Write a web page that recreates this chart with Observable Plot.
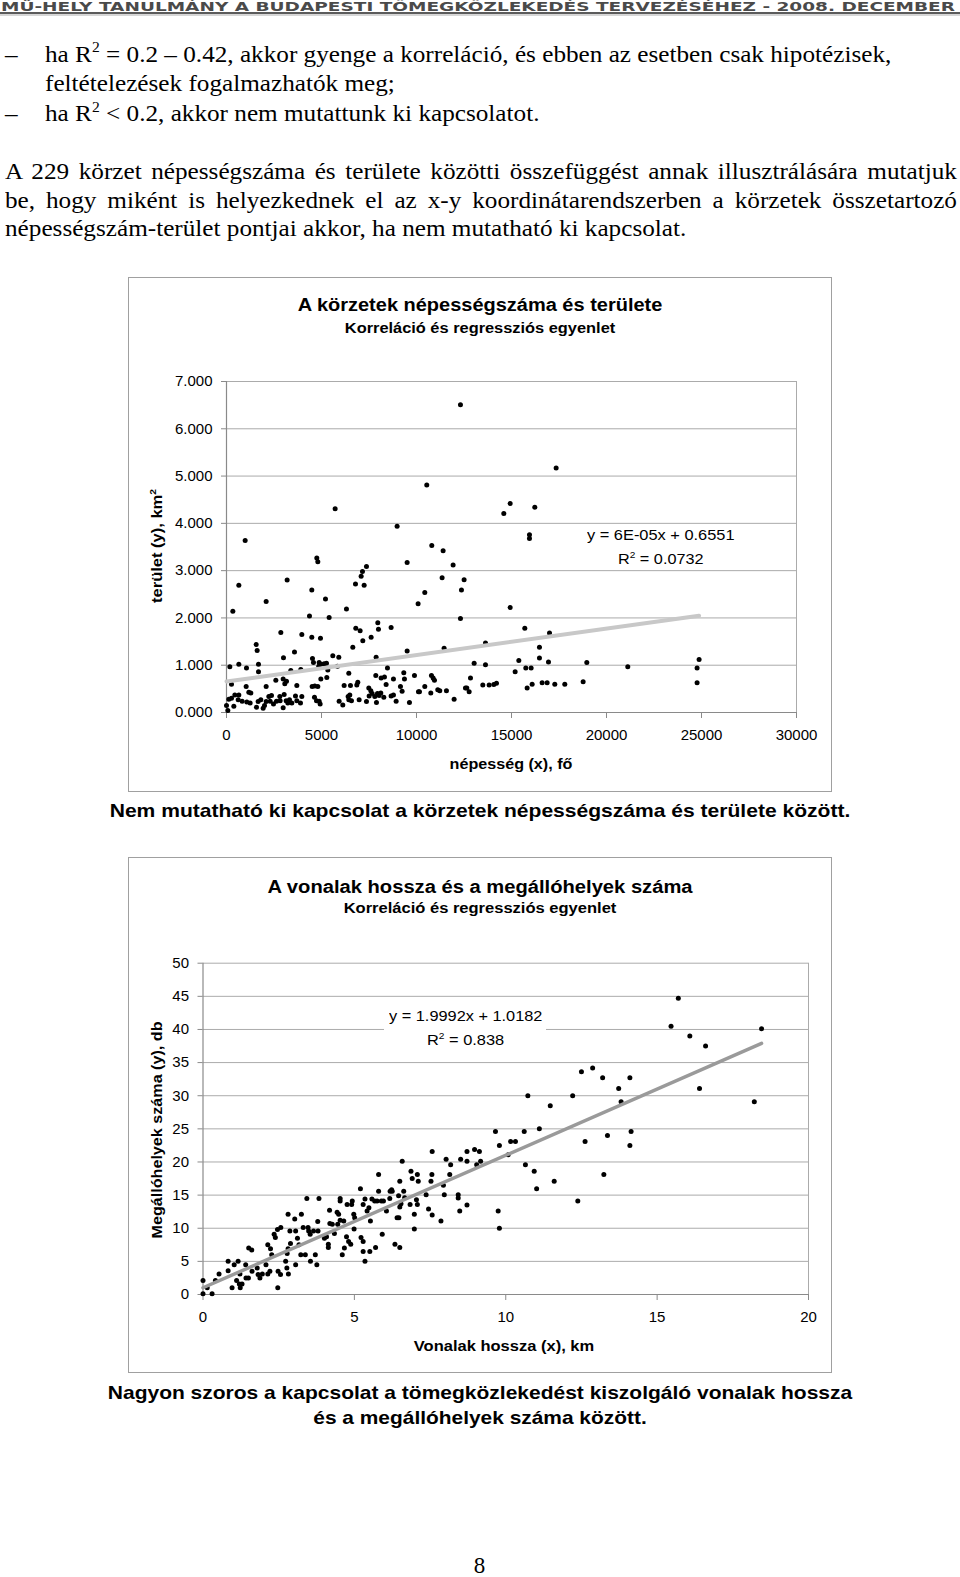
<!DOCTYPE html>
<html><head><meta charset="utf-8">
<script src="https://cdn.jsdelivr.net/npm/d3@7"></script>
<script src="https://cdn.jsdelivr.net/npm/@observablehq/plot@0.6"></script>
<style>
body{margin:0;background:#fff;}
#page{position:relative;width:960px;height:1577px;overflow:hidden;font-family:"Liberation Sans",Arial,sans-serif;color:#000;background:#fff;}
.abs{position:absolute;white-space:nowrap;line-height:1;}
.serif{font-family:"Liberation Serif","Times New Roman",serif;font-size:24px;transform:scaleX(1.05);transform-origin:0 50%;}
.sans{font-family:"Liberation Sans",Arial,sans-serif;}
.b{font-weight:bold;}
.cx{transform:translateX(-50%) scaleX(var(--s,1));}
.lx{transform:scaleX(var(--s,1));transform-origin:0 50%;}
.rot{transform:translate(-50%,-50%) rotate(-90deg) scaleX(var(--s,1));}
sup{font-size:0.62em;vertical-align:0;position:relative;top:-0.62em;line-height:0;}
.box{position:absolute;border:1px solid #a0a0a0;box-sizing:border-box;}
.just{text-align:justify;text-align-last:justify;white-space:normal;}
.chart{position:absolute;}
</style></head>
<body><div id="page">
<svg class="abs" style="left:0;top:0" width="960" height="18">
  <text x="1" y="11" textLength="954" lengthAdjust="spacingAndGlyphs" font-family="DejaVu Sans" font-weight="bold" font-size="12.5" fill="#4a4a4a">MŰ-HELY TANULMÁNY A BUDAPESTI TÖMEGKÖZLEKEDÉS TERVEZÉSÉHEZ - 2008. DECEMBER</text>
  <rect x="0" y="12.2" width="960" height="1.6" fill="#333"/>
  <rect x="0" y="14.6" width="960" height="0.8" fill="#999"/>
</svg>

<div class="abs serif" style="left:5px;top:41.5px">–</div>
<div class="abs serif" style="left:45px;top:41.5px">ha R<sup>2</sup> = 0.2 – 0.42, akkor gyenge a korreláció, és ebben az esetben csak hipotézisek,</div>
<div class="abs serif" style="left:45px;top:70.6px">feltételezések fogalmazhatók meg;</div>
<div class="abs serif" style="left:5px;top:100.8px">–</div>
<div class="abs serif" style="left:45px;top:100.8px">ha R<sup>2</sup> &lt; 0.2, akkor nem mutattunk ki kapcsolatot.</div>

<div class="abs serif just" style="left:5px;top:159.1px;width:906.6px">A 229 körzet népességszáma és területe közötti összefüggést annak illusztrálására mutatjuk</div>
<div class="abs serif just" style="left:5px;top:188.2px;width:906.6px">be, hogy miként is helyezkednek el az x-y koordinátarendszerben a körzetek összetartozó</div>
<div class="abs serif" style="left:5px;top:216.4px">népességszám-terület pontjai akkor, ha nem mutatható ki kapcsolat.</div>

<!-- chart 1 frame and texts -->
<div class="box" style="left:127.5px;top:277px;width:704px;height:515px"></div>
<div class="abs sans b cx" style="left:479.5px;top:295.6px;font-size:18px;--s:1.11">A körzetek népességszáma és területe</div>
<div class="abs sans b cx" style="left:479.5px;top:320.7px;font-size:14px;--s:1.17">Korreláció és regressziós egyenlet</div>
<div id="c1" class="chart" style="left:129px;top:278px"></div>
<div class="abs sans rot b" style="left:156px;top:546px;font-size:15px;--s:1.10">terület (y), km<sup>2</sup></div>
<div class="abs sans b cx" style="left:510.7px;top:755.5px;font-size:15px;--s:1.075">népesség (x), fő</div>
<div class="abs sans lx" style="left:587px;top:527.5px;font-size:14.5px;--s:1.13">y = 6E-05x + 0.6551</div>
<div class="abs sans lx" style="left:618px;top:551.5px;font-size:14.5px;--s:1.12">R<sup>2</sup> = 0.0732</div>
<div class="abs sans b cx" style="left:479.5px;top:800.5px;font-size:19px;--s:1.108">Nem mutatható ki kapcsolat a körzetek népességszáma és területe között.</div>

<!-- chart 2 frame and texts -->
<div class="box" style="left:127.5px;top:857px;width:704px;height:516px"></div>
<div class="abs sans b cx" style="left:479.5px;top:877.6px;font-size:18px;--s:1.12">A vonalak hossza és a megállóhelyek száma</div>
<div class="abs sans b cx" style="left:479.5px;top:901px;font-size:14px;--s:1.18">Korreláció és regressziós egyenlet</div>
<div id="c2" class="chart" style="left:129px;top:859px"></div>
<div class="abs" style="left:384px;top:1001px;width:162px;height:50px;background:#fff"></div>
<div class="abs sans rot b" style="left:156px;top:1130px;font-size:15px;--s:1.076">Megállóhelyek száma (y), db</div>
<div class="abs sans b cx" style="left:503.6px;top:1337.5px;font-size:15px;--s:1.10">Vonalak hossza (x), km</div>
<div class="abs sans lx" style="left:389px;top:1009px;font-size:14.5px;--s:1.126">y = 1.9992x + 1.0182</div>
<div class="abs sans lx" style="left:427px;top:1033px;font-size:14.5px;--s:1.13">R<sup>2</sup> = 0.838</div>
<div class="abs sans b cx" style="left:479.5px;top:1382.5px;font-size:19px;--s:1.105">Nagyon szoros a kapcsolat a tömegközlekedést kiszolgáló vonalak hossza</div>
<div class="abs sans b cx" style="left:479.5px;top:1407.5px;font-size:19px;--s:1.10">és a megállóhelyek száma között.</div>

<div class="abs cx" style="left:479.5px;top:1554px;font-size:23px;font-family:'Liberation Serif',serif">8</div>
</div>
<script>
// ---- Chart 1 data: népesség (fő), terület (km2) ----
const korzetek = [
[12313,6.51],[10541,4.81],[5718,4.31],[8980,3.94],[982,3.64],[10804,3.53],[11401,3.42],[4753,3.27],[4806,3.19],[9507,3.17],
[11927,3.12],[7367,3.09],[7156,2.98],[7086,2.88],[12506,2.81],[649,2.69],[3192,2.80],[6788,2.72],[7244,2.69],[11348,2.85],
[12366,2.59],[4490,2.59],[10436,2.54],[2087,2.35],[5209,2.40],[10085,2.30],[333,2.14],[6314,2.19],[5402,2.01],[4367,2.04],
[12313,1.99],[2859,1.69],[3964,1.65],[6805,1.78],[7033,1.73],[7963,1.90],[7998,1.76],[8664,1.80],[4490,1.59],[4946,1.57],
[7174,1.52],[7612,1.59],[1561,1.44],[1613,1.31],[3578,1.28],[6648,1.38],[9507,1.30],[11453,1.36],[2999,1.16],[4525,1.14],
[4578,1.06],[5595,1.20],[5911,1.17],[7875,1.17],[4876,1.06],[5139,1.03],[5262,1.04],[175,0.97],[649,1.02],[1052,0.94],
[1684,1.02],[1684,0.86],[3911,0.91],[3385,0.89],[4858,0.98],[4964,1.02],[5332,0.90],[5841,0.98],[6437,0.83],[8472,0.94],
[9331,0.84],[263,0.60],[1035,0.55],[1175,0.43],[1280,0.41],[2087,0.55],[2596,0.68],[2982,0.71],[3069,0.61],[3157,0.66],
[3701,0.57],[4508,0.55],[4648,0.56],[4806,0.55],[4964,0.71],[5279,0.74],[6191,0.57],[6525,0.57],[6858,0.58],[6910,0.64],
[7489,0.52],[7595,0.46],[7858,0.78],[8138,0.73],[8314,0.75],[8401,0.59],[8787,0.71],[9155,0.55],[9243,0.45],[9366,0.71],
[9893,0.78],[10103,0.44],[10156,0.44],[10436,0.55],[10752,0.41],[10787,0.78],[10875,0.73],[10945,0.68],[11120,0.48],[11225,0.46],
[11576,0.46],[11980,0.28],[12576,0.52],
[0,0.15],[70,0.04],[123,0.28],[263,0.30],[386,0.13],[438,0.37],[649,0.37],[614,0.27],[824,0.24],[1070,0.22],
[1245,0.20],[1578,0.11],[1666,0.23],[1806,0.27],[1929,0.09],[2000,0.15],[2087,0.23],[2227,0.34],[2298,0.24],[2368,0.36],
[2473,0.18],[2631,0.24],[2806,0.34],[2824,0.25],[2982,0.10],[3034,0.38],[3139,0.25],[3227,0.20],[3315,0.27],[3438,0.20],
[3631,0.35],[3701,0.25],[3894,0.20],[3964,0.34],[4630,0.32],[4736,0.25],[4876,0.24],[4929,0.18],[5928,0.24],[6121,0.16],
[6402,0.34],[6437,0.27],[6490,0.37],[6577,0.25],[6981,0.27],[7367,0.23],[7507,0.35],[7665,0.40],[7805,0.34],[7893,0.21],
[7945,0.40],[8033,0.36],[8121,0.41],[8279,0.32],[8664,0.35],[8787,0.37],[8928,0.24],[9629,0.21],
[17349,5.17],[14595,4.21],[14928,4.42],[16226,4.34],[15946,3.76],[15946,3.68],[14928,2.22],[15700,1.78],[17000,1.68],[16472,1.38],
[13631,1.47],[13034,1.04],[13631,1.01],[15385,1.10],[15753,0.94],[16033,0.94],[16472,1.15],[16946,1.07],[18963,1.06],[21120,0.97],
[24874,1.12],[24768,0.94],[24768,0.63],[15192,0.86],[12841,0.73],[12648,0.52],[12771,0.44],[13490,0.58],[13823,0.58],[14069,0.59],
[14209,0.62],[15823,0.52],[16086,0.60],[16612,0.63],[16876,0.63],[17279,0.60],[17805,0.60],[18770,0.65]
];
const x1Ticks = [0,5000,10000,15000,20000,25000,30000];
const y1Ticks = [0,1,2,3,4,5,6,7];
// trend line as drawn (label: y = 6E-05x + 0.6551)
const trend1 = {slope: 0.000056, intercept: 0.6551, xFrom: 0, xTo: 24874};

// ---- Chart 2 data: vonalak hossza (km), megállóhelyek száma (db) ----
const vonalak = [
[0,2.1],[0,0.1],[0.30,0.1],[0.14,1.0],[0.41,2.1],[0.53,3.1],[0.83,5.0],[0.83,3.6],[0.96,1.0],[1.03,4.5],
[1.16,5.0],[1.11,2.1],[1.20,1.6],[1.29,1.6],[1.23,1.0],[1.22,3.1],[1.41,4.5],[1.42,2.5],[1.50,2.5],[1.51,7.0],
[1.61,6.7],[1.62,3.5],[1.82,3.0],[1.88,2.5],[1.96,3.1],[1.79,4.0],[2.08,4.5],[2.14,7.5],[2.21,3.5],[2.23,6.9],
[2.27,6.0],[2.14,3.1],[2.35,9.1],[2.39,8.6],[2.46,9.8],[2.57,10.1],[2.47,1.0],[2.48,3.5],[2.56,3.0],[2.73,5.0],
[2.77,4.0],[2.82,3.1],[2.78,6.2],[2.81,6.9],[2.81,12.1],[2.87,9.6],[3.03,11.4],[3.06,9.6],[2.89,7.7],[3.06,4.5],
[3.17,7.5],[3.12,8.5],[3.25,12.1],[3.31,10.1],[3.38,6.0],[3.23,6.0],[3.47,10.1],[3.54,9.1],[3.49,9.6],[3.43,14.5],
[3.55,5.0],[3.65,9.6],[3.71,6.0],[3.76,4.5],[3.79,11.0],[3.83,14.5],[3.80,9.6],[4.01,8.5],[4.08,8.7],[4.14,7.6],
[4.14,7.1],[4.18,12.7],[4.19,10.7],[4.27,10.6],[4.34,9.2],[4.43,12.4],[4.45,10.6],[4.48,12.1],[4.53,11.2],[4.53,14.5],
[4.53,14.1],[4.60,6.0],[4.67,7.0],[4.65,11.1],[4.74,8.7],[4.81,8.0],[4.88,7.6],[4.76,13.6],[4.91,13.6],[4.93,14.1],
[4.98,12.1],[5.01,11.6],[4.99,9.9],[5.20,15.95],[5.22,8.6],[5.29,8.0],[5.29,6.5],[5.35,5.0],[5.51,6.5],[5.70,7.1],
[5.29,13.6],[5.35,14.4],[5.42,12.6],[5.48,13.1],[5.53,11.1],[5.58,14.4],[5.67,14.1],[5.75,14.1],[5.80,18.1],[5.80,15.6],
[5.89,14.1],[5.96,14.1],[5.92,9.1],[6.06,12.6],[6.18,15.6],[6.17,14.5],[6.23,15.8],[6.25,15.6],[6.34,7.6],[6.50,7.1],
[6.41,11.6],[6.47,11.6],[6.50,13.2],[6.54,13.7],[6.46,14.9],[6.50,17.1],[6.58,20.1],[6.63,15.6],[6.66,14.6],[6.84,13.6],
[6.87,18.6],[6.91,17.5],[6.98,12.1],[6.98,9.9],[7.05,14.3],[7.08,18.1],[7.08,13.6],[7.11,17.1],
[7.37,15.05],[7.45,12.9],[7.53,17.1],[7.56,18.1],[7.57,21.6],[7.57,12.0],[7.86,11.1],[7.94,16.5],[7.97,15.05],[8.03,20.4],
[8.15,18.1],[8.18,19.6],[8.43,15.05],[8.43,14.55],[8.48,12.6],[8.51,20.4],[8.72,21.6],[8.72,20.1],[8.72,13.5],[8.97,21.9],
[9.04,19.6],[9.13,21.6],[9.17,20.1],[9.66,24.6],[9.75,12.6],[9.79,22.5],[9.79,10.0],[10.08,21.1],[10.16,23.1],[10.32,23.1],
[10.61,24.6],[10.65,19.6],[10.73,30.0],[10.94,18.6],[11.02,15.95],[11.11,25.0],[11.47,28.5],[11.60,17.1],[12.21,30.0],[12.38,14.1],
[12.50,33.6],[12.62,23.1],[12.87,34.2],[13.20,32.7],[13.24,18.1],[13.36,24.0],[13.73,31.1],[13.81,29.1],[14.10,32.7],[14.14,24.6],
[14.10,22.5],[15.46,40.5],[15.70,44.7],[16.08,39.0],[16.40,31.1],[16.60,37.5],[18.21,29.1],[18.45,40.1]
];
const x2Ticks = [0,5,10,15,20];
const y2Ticks = [0,5,10,15,20,25,30,35,40,45,50];
const trend2 = {slope: 1.9992, intercept: 1.0182, xFrom: 0, xTo: 18.45};

const GRID = "#ababab", AXIS = "#8a8a8a";
const lineOf = t => [t.xFrom, t.xTo].map(x => ({x, y: t.slope * x + t.intercept}));

function scatter({data, xDomain, yDomain, xTicks, yTicks, yFormat, trend, trendColor, trendWidth, width, height, margins}) {
  return Plot.plot({
    width, height, ...margins,
    style: {background: "transparent", fontFamily: "Liberation Sans, Arial, sans-serif", fontSize: "15px", color: "#000", overflow: "visible"},
    x: {domain: xDomain},
    y: {domain: yDomain},
    marks: [
      Plot.ruleY(yTicks.filter(d => d > 0), {stroke: GRID, strokeWidth: 1}),
      Plot.ruleX([xDomain[1]], {stroke: GRID, strokeWidth: 1}),
      Plot.axisY({ticks: yTicks, tickFormat: yFormat, tickSize: 5, tickPadding: 9, stroke: AXIS, fill: "#000", label: null}),
      Plot.axisX({ticks: xTicks, tickFormat: d3.format("d"), tickSize: 6, tickPadding: 10.5, stroke: AXIS, fill: "#000", label: null}),
      Plot.ruleX([xDomain[0]], {stroke: AXIS, strokeWidth: 1.2}),
      Plot.ruleY([yDomain[0]], {stroke: AXIS, strokeWidth: 1.2}),
      Plot.dot(data, {x: d => d[0], y: d => d[1], r: 2.5, fill: "#000", stroke: "none"}),
      Plot.line(lineOf(trend), {x: "x", y: "y", stroke: trendColor, strokeWidth: trendWidth})
    ]
  });
}

document.getElementById("c1").append(scatter({
  data: korzetek, xDomain: [0, 30000], yDomain: [0, 7], xTicks: x1Ticks, yTicks: y1Ticks,
  yFormat: d3.format(".3f"), trend: trend1, trendColor: "#c8c8c8", trendWidth: 4,
  width: 702, height: 512, margins: {marginLeft: 97, marginRight: 35, marginTop: 103, marginBottom: 78}
}));
document.getElementById("c2").append(scatter({
  data: vonalak, xDomain: [0, 20], yDomain: [0, 50], xTicks: x2Ticks, yTicks: y2Ticks,
  yFormat: d3.format("d"), trend: trend2, trendColor: "#9a9a9a", trendWidth: 3.5,
  width: 702, height: 513, margins: {marginLeft: 73.5, marginRight: 23, marginTop: 103.7, marginBottom: 78}
}));
</script>
</body></html>
